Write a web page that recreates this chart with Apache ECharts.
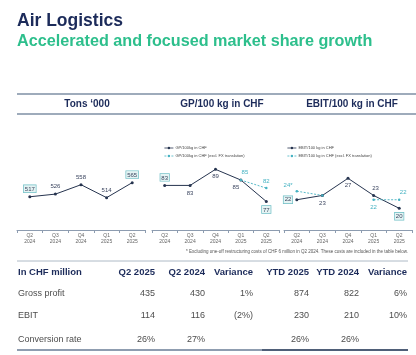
<!DOCTYPE html>
<html>
<head>
<meta charset="utf-8">
<script src="https://cdn.jsdelivr.net/npm/echarts@6/dist/echarts.min.js"></script>
<style>
html,body{margin:0;padding:0;background:#fff;}
#c{width:416px;height:355px;}
</style>
</head>
<body>
<div id="c"></div>
<script>
// ---- data ----
var quarters = ['Q2\n2024', 'Q3\n2024', 'Q4\n2024', 'Q1\n2025', 'Q2\n2025'];
var tons = [517, 526, 558, 514, 565];
var gpPer100 = [83, 83, 89, 85, 77];
var gpPer100ExFx = [null, null, null, 85, 82];
var ebitPer100 = [22, 23, 27, 23, 20];
var ebitPer100ExFx = [24, 23, null, 22, 22];
var ebitExFxLabels = ['24*', '', '', '22', '22'];
var panelTitles = ["Tons \u2018000", 'GP/100 kg in CHF', 'EBIT/100 kg in CHF'];
var gpNames = ['GP/100kg in CHF', 'GP/100kg in CHF (excl. FX translation)'];
var ebitNames = ['EBIT/100 kg in CHF', 'EBIT/100 kg in CHF (excl. FX translation)'];
var tableHeader = ['In CHF million', 'Q2 2025', 'Q2 2024', 'Variance', 'YTD 2025', 'YTD 2024', 'Variance'];
var tableRows = [
  ['Gross profit', '435', '430', '1%', '874', '822', '6%'],
  ['EBIT', '114', '116', '(2%)', '230', '210', '10%'],
  ['Conversion rate', '26%', '27%', '', '26%', '26%', '']
];
var footnote = '* Excluding one-off restructuring costs of CHF 6 million in Q2 2024. These costs are included in the table below.';

// ---- styling / layout ----
var NAVY = '#1c2b5a', GREEN = '#2dbf8c', DARK = '#26344f', TEAL = '#45b2c2', GRAYTXT = '#4d4d4d', RULE = '#7e8fa5';
var FONT = 'Liberation Sans, Arial, sans-serif';
var boxLabel = {backgroundColor: '#e4f3f3', borderColor: '#6fbfc6', borderWidth: 0.7, padding: [1, 1, 0, 1]};

function lbl(pos, extra) {
  var o = {show: true, position: pos, fontSize: 6, color: '#3c4660', fontFamily: FONT, distance: 3};
  if (extra) for (var k in extra) o[k] = extra[k];
  return o;
}
function items(vals, labels) {
  return vals.map(function (v, i) {
    if (v === null) return null;
    var it = {value: v};
    if (labels && labels[i]) it.label = labels[i];
    return it;
  });
}

var grids = [
  {left: 17, width: 128, top: 120, height: 110},
  {left: 152, width: 127, top: 120, height: 110},
  {left: 284, width: 128, top: 120, height: 110}
];
var yRanges = [[404, 778], [66.37, 107.4], [14.94, 40.6]];

var xAxes = grids.map(function (g, i) {
  return {
    type: 'category', gridIndex: i, data: quarters, boundaryGap: true,
    axisLine: {lineStyle: {color: '#8d9cb0', width: 1}},
    axisTick: {show: true, length: 3, lineStyle: {color: '#8d9cb0'}},
    axisLabel: {fontSize: 5, color: '#666', lineHeight: 6, margin: 3, fontFamily: FONT}
  };
});
var yAxes = grids.map(function (g, i) {
  return {type: 'value', gridIndex: i, min: yRanges[i][0], max: yRanges[i][1], show: false, splitLine: {show: false}};
});

var darkLine = {color: DARK, width: 1};
var tealLine = {color: TEAL, width: 0.9, type: [2, 1.5]};

var series = [
  {
    name: 'Tons', type: 'line', xAxisIndex: 0, yAxisIndex: 0, symbol: 'circle', symbolSize: 3,
    lineStyle: darkLine, itemStyle: {color: DARK},
    data: items(tons, [lbl('top', boxLabel), lbl('top'), lbl('top'), lbl('top'), lbl('top', boxLabel)])
  },
  {
    name: gpNames[0], type: 'line', xAxisIndex: 1, yAxisIndex: 1, symbol: 'circle', symbolSize: 3,
    lineStyle: darkLine, itemStyle: {color: DARK},
    data: items(gpPer100, [lbl('top', boxLabel), lbl('bottom'), lbl('bottom'), lbl('bottom', {offset: [-5, 0]}), lbl('bottom', boxLabel)])
  },
  {
    name: gpNames[1], type: 'line', xAxisIndex: 1, yAxisIndex: 1, symbol: 'circle', symbolSize: 2.5,
    lineStyle: tealLine, itemStyle: {color: TEAL}, connectNulls: false,
    data: items(gpPer100ExFx, [null, null, null, lbl('top', {color: TEAL, offset: [4, 0]}), lbl('top', {color: TEAL})])
  },
  {
    name: ebitNames[0], type: 'line', xAxisIndex: 2, yAxisIndex: 2, symbol: 'circle', symbolSize: 3,
    lineStyle: darkLine, itemStyle: {color: DARK},
    data: items(ebitPer100, [lbl('left', boxLabel), lbl('bottom'), lbl('bottom'), lbl('top', {offset: [2, 0]}), lbl('bottom', boxLabel)])
  },
  {
    name: ebitNames[1], type: 'line', xAxisIndex: 2, yAxisIndex: 2, symbol: 'circle', symbolSize: 2.5,
    lineStyle: tealLine, itemStyle: {color: TEAL}, connectNulls: false,
    data: items(ebitPer100ExFx, [
      lbl('left', {color: TEAL, offset: [0, -6], formatter: ebitExFxLabels[0]}),
      {show: false}, null,
      lbl('bottom', {color: TEAL, formatter: ebitExFxLabels[3]}),
      lbl('top', {color: TEAL, offset: [4, 0], formatter: ebitExFxLabels[4]})
    ])
  }
];

function legend(names, left, top) {
  return {
    data: names,
    orient: 'vertical', left: left, top: top, itemGap: 4, itemWidth: 9, itemHeight: 3,
    lineStyle: {width: 0.8},
    textStyle: {fontSize: 4, color: '#444', fontFamily: FONT, padding: [0, 0, 0, -3]},
    selectedMode: false
  };
}

// ---- graphic texts and rules ----
var graphic = [];
function txt(x, y, s, size, weight, color, align) {
  graphic.push({type: 'text', x: x, y: y, silent: true,
    style: {text: s, fontSize: size, fontWeight: weight, fontFamily: FONT, fill: color, textAlign: align || 'left', textVerticalAlign: 'middle'}});
}
function rule(x1, y, x2, w, color) {
  graphic.push({type: 'line', silent: true, shape: {x1: x1, y1: y, x2: x2, y2: y}, style: {stroke: color, lineWidth: w}});
}
txt(17, 21, 'Air Logistics', 17.5, 'bold', NAVY);
txt(17, 41.5, 'Accelerated and focused market share growth', 16.2, 'bold', GREEN);
rule(17, 94, 416, 1.5, RULE);
rule(17, 114, 416, 1.3, RULE);
var headerCenters = [87, 222, 352];
panelTitles.forEach(function (t, i) { txt(headerCenters[i], 104, t, 10, 'bold', NAVY, 'center'); });
txt(408, 252, footnote, 4.5, 'normal', '#555', 'right');
rule(17, 261, 408, 0.8, '#9aa8b8');
var colRight = [18, 155, 205, 253, 309, 359, 407];
tableHeader.forEach(function (h, j) { txt(colRight[j], 272, h, 9.5, 'bold', NAVY, j === 0 ? 'left' : 'right'); });
var rowY = [293.5, 315.5, 339.5];
tableRows.forEach(function (r, i) {
  r.forEach(function (c, j) { if (c) txt(colRight[j], rowY[i], c, 9, 'normal', GRAYTXT, j === 0 ? 'left' : 'right'); });
});
rule(17, 350, 262, 2, '#8f9db0');
rule(262, 350, 408, 2, '#4f5f78');

var chart = echarts.init(document.getElementById('c'), null, {renderer: 'canvas'});
chart.setOption({
  animation: false,
  backgroundColor: '#ffffff',
  textStyle: {fontFamily: FONT},
  grid: grids,
  xAxis: xAxes,
  yAxis: yAxes,
  legend: [legend(gpNames, 159, 141), legend(ebitNames, 282, 141)],
  series: series,
  graphic: graphic
});
</script>
</body>
</html>
